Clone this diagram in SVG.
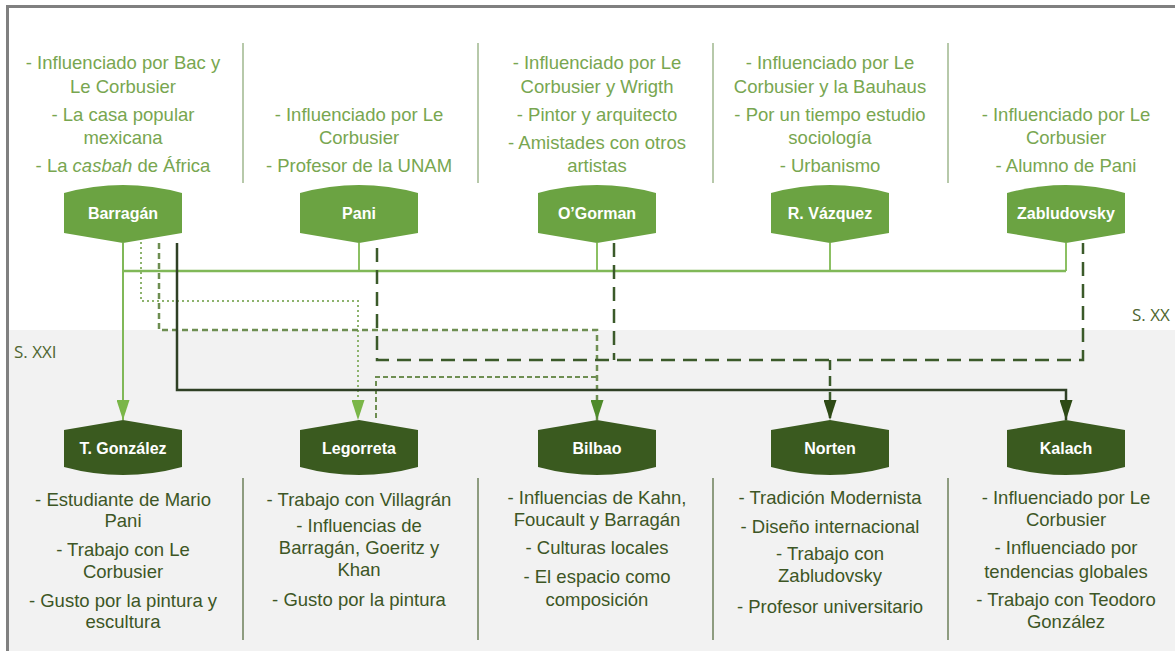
<svg xmlns="http://www.w3.org/2000/svg" width="1175" height="651" viewBox="0 0 1175 651">
<defs>
<style>
.top{fill:#6ba342}
.bot{fill:#3a5a1f}
.lbl{font-family:"Liberation Sans",Arial,sans-serif;font-weight:bold;font-size:16px;fill:#ffffff;text-anchor:middle}
.tt{font-family:"Liberation Sans",Arial,sans-serif;font-size:18.5px;fill:#78a650;text-anchor:middle}
.bt{font-family:"Liberation Sans",Arial,sans-serif;font-size:18.5px;fill:#3d5625;text-anchor:middle}
.sepT{stroke:#b7c9aa;stroke-width:2}
.sepB{stroke:#8e9c80;stroke-width:2}
.era{font-family:"Open Sans","DejaVu Sans",sans-serif;font-size:17px;fill:#4f6530}
.c{fill:none}
</style>
<marker id="aL" viewBox="0 0 20 13" refX="20" refY="6.5" markerWidth="20" markerHeight="13" markerUnits="userSpaceOnUse" orient="auto"><path d="M0,0 L20,6.5 L0,13 Z" fill="#7ab648"/></marker>
<marker id="aM" viewBox="0 0 20 13" refX="20" refY="6.5" markerWidth="20" markerHeight="13" markerUnits="userSpaceOnUse" orient="auto"><path d="M0,0 L20,6.5 L0,13 Z" fill="#4e8a2a"/></marker>
<marker id="aD" viewBox="0 0 20 13" refX="20" refY="6.5" markerWidth="20" markerHeight="13" markerUnits="userSpaceOnUse" orient="auto"><path d="M0,0 L20,6.5 L0,13 Z" fill="#2e4a16"/></marker>
</defs>
<rect x="0" y="0" width="1175" height="651" fill="#ffffff"/>
<rect x="9" y="330" width="1166" height="321" fill="#f2f2f2"/>
<rect x="7.5" y="6.5" width="1200" height="700" fill="none" stroke="#808080" stroke-width="3"/>
<text class="era" x="14" y="358">S. XXI</text>
<text class="era" x="1132" y="321">S. XX</text>

<g id="separators">
<line class="sepT" x1="243" y1="43" x2="243" y2="183"/>
<line class="sepT" x1="478" y1="43" x2="478" y2="183"/>
<line class="sepT" x1="713" y1="43" x2="713" y2="183"/>
<line class="sepT" x1="948" y1="43" x2="948" y2="183"/>
<line class="sepB" x1="243" y1="478" x2="243" y2="640"/>
<line class="sepB" x1="478" y1="478" x2="478" y2="640"/>
<line class="sepB" x1="713" y1="478" x2="713" y2="640"/>
<line class="sepB" x1="948" y1="478" x2="948" y2="640"/>
</g>

<g id="connectors">
<path class="c" d="M359,243 V271 M597,243 V271 M830,243 V271 M1066,243 V271" stroke="#8cc063" stroke-width="2"/>
<path class="c" d="M123,271 H1066" stroke="#80b858" stroke-width="2.5"/>
<path class="c" d="M123,243 V420" stroke="#80b858" stroke-width="2" marker-end="url(#aL)"/>
<path class="c" d="M141,242 V301 H358 V420" stroke="#8db36d" stroke-width="2" stroke-dasharray="2 3" marker-end="url(#aL)"/>
<path class="c" d="M159,243 V330 H597 V420" stroke="#6e8e52" stroke-width="2.5" stroke-dasharray="6 4" marker-end="url(#aM)"/>
<path class="c" d="M376,418 V377 H597" stroke="#6e8e52" stroke-width="2" stroke-dasharray="5 3"/>
<path class="c" d="M377,248 V360 H1083 V243 M614,243 V360" stroke="#3b5a2a" stroke-width="2.5" stroke-dasharray="14 8"/>
<path class="c" d="M177,243 V390 H1066 V420" stroke="#2f4025" stroke-width="2.5" marker-end="url(#aD)"/>
<path class="c" d="M830,360 V420" stroke="#3b5a2a" stroke-width="2.5" stroke-dasharray="10 6" marker-end="url(#aD)"/>
</g>

<g id="barragan">
<path class="top" d="M64,193 Q123,177 182,193 L182,233 L123,243 L64,233 Z"/>
<text class="lbl" x="123" y="219">Barragán</text>
<text class="tt" x="123" y="69">- Influenciado por Bac y</text>
<text class="tt" x="123" y="93">Le Corbusier</text>
<text class="tt" x="123" y="121">- La casa popular</text>
<text class="tt" x="123" y="144">mexicana</text>
<text class="tt" x="123" y="172">- La <tspan font-style="italic">casbah</tspan> de África</text>
</g>
<g id="pani">
<path class="top" d="M300,193 Q359,177 418,193 L418,233 L359,243 L300,233 Z"/>
<text class="lbl" x="359" y="219">Pani</text>
<text class="tt" x="359" y="121">- Influenciado por Le</text>
<text class="tt" x="359" y="144">Corbusier</text>
<text class="tt" x="359" y="172">- Profesor de la UNAM</text>
</g>
<g id="ogorman">
<path class="top" d="M538,193 Q597,177 656,193 L656,233 L597,243 L538,233 Z"/>
<text class="lbl" x="597" y="219">O’Gorman</text>
<text class="tt" x="597" y="69">- Influenciado por Le</text>
<text class="tt" x="597" y="93">Corbusier y Wrigth</text>
<text class="tt" x="597" y="121">- Pintor y arquitecto</text>
<text class="tt" x="597" y="149">- Amistades con otros</text>
<text class="tt" x="597" y="172">artistas</text>
</g>
<g id="rvazquez">
<path class="top" d="M771,193 Q830,177 889,193 L889,233 L830,243 L771,233 Z"/>
<text class="lbl" x="830" y="219">R. Vázquez</text>
<text class="tt" x="830" y="69">- Influenciado por Le</text>
<text class="tt" x="830" y="93">Corbusier y la Bauhaus</text>
<text class="tt" x="830" y="121">- Por un tiempo estudio</text>
<text class="tt" x="830" y="144">sociología</text>
<text class="tt" x="830" y="172">- Urbanismo</text>
</g>
<g id="zabludovsky">
<path class="top" d="M1007,193 Q1066,177 1125,193 L1125,233 L1066,243 L1007,233 Z"/>
<text class="lbl" x="1066" y="219">Zabludovsky</text>
<text class="tt" x="1066" y="121">- Influenciado por Le</text>
<text class="tt" x="1066" y="144">Corbusier</text>
<text class="tt" x="1066" y="172">- Alumno de Pani</text>
</g>

<g id="tgonzalez">
<path class="bot" d="M64,430 L123,420 L182,430 L182,467 Q123,483 64,467 Z"/>
<text class="lbl" x="123" y="454">T. González</text>
<text class="bt" x="123" y="506">- Estudiante de Mario</text>
<text class="bt" x="123" y="527">Pani</text>
<text class="bt" x="123" y="556">- Trabajo con Le</text>
<text class="bt" x="123" y="578">Corbusier</text>
<text class="bt" x="123" y="607">- Gusto por la pintura y</text>
<text class="bt" x="123" y="628">escultura</text>
</g>
<g id="legorreta">
<path class="bot" d="M300,430 L359,420 L418,430 L418,467 Q359,483 300,467 Z"/>
<text class="lbl" x="359" y="454">Legorreta</text>
<text class="bt" x="359" y="506">- Trabajo con Villagrán</text>
<text class="bt" x="359" y="532">- Influencias de</text>
<text class="bt" x="359" y="554">Barragán, Goeritz y</text>
<text class="bt" x="359" y="576">Khan</text>
<text class="bt" x="359" y="606">- Gusto por la pintura</text>
</g>
<g id="bilbao">
<path class="bot" d="M538,430 L597,420 L656,430 L656,467 Q597,483 538,467 Z"/>
<text class="lbl" x="597" y="454">Bilbao</text>
<text class="bt" x="597" y="504">- Influencias de Kahn,</text>
<text class="bt" x="597" y="526">Foucault y Barragán</text>
<text class="bt" x="597" y="554">- Culturas locales</text>
<text class="bt" x="597" y="583">- El espacio como</text>
<text class="bt" x="597" y="606">composición</text>
</g>
<g id="norten">
<path class="bot" d="M771,430 L830,420 L889,430 L889,467 Q830,483 771,467 Z"/>
<text class="lbl" x="830" y="454">Norten</text>
<text class="bt" x="830" y="504">- Tradición Modernista</text>
<text class="bt" x="830" y="533">- Diseño internacional</text>
<text class="bt" x="830" y="560">- Trabajo con</text>
<text class="bt" x="830" y="582">Zabludovsky</text>
<text class="bt" x="830" y="613">- Profesor universitario</text>
</g>
<g id="kalach">
<path class="bot" d="M1007,430 L1066,420 L1125,430 L1125,467 Q1066,483 1007,467 Z"/>
<text class="lbl" x="1066" y="454">Kalach</text>
<text class="bt" x="1066" y="504">- Influenciado por Le</text>
<text class="bt" x="1066" y="526">Corbusier</text>
<text class="bt" x="1066" y="554">- Influenciado por</text>
<text class="bt" x="1066" y="578">tendencias globales</text>
<text class="bt" x="1066" y="606">- Trabajo con Teodoro</text>
<text class="bt" x="1066" y="628">González</text>
</g>
</svg>
